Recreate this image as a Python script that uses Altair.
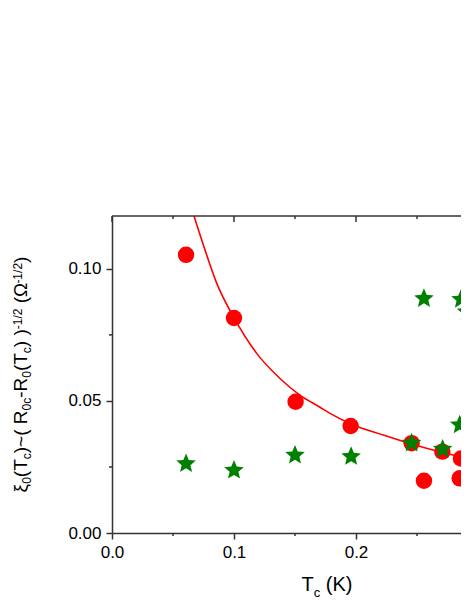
import math
import altair as alt
import pandas as pd

# ---- data ----
red_x = [0.0607, 0.1000, 0.1505, 0.1956, 0.2456, 0.2708, 0.2860, 0.2557, 0.2850, 0.2910]
red_y = [0.1053, 0.0814, 0.0497, 0.0405, 0.0340, 0.0308, 0.0282, 0.0198, 0.0207, 0.0210]

green_x = [0.0607, 0.1000, 0.1500, 0.1960, 0.2456, 0.2710, 0.2850, 0.2557, 0.2860, 0.2907]
green_y = [0.0266, 0.0241, 0.0298, 0.0293, 0.0344, 0.0321, 0.0413, 0.0891, 0.0888, 0.0841]

fit_x = [0.0672, 0.0762, 0.0858, 0.0995, 0.1186, 0.1377, 0.1540, 0.1705, 0.1787,
         0.1964, 0.2224, 0.2456, 0.2716, 0.2825, 0.2870]
fit_y = [0.1200, 0.1072, 0.0946, 0.0819, 0.0680, 0.0585, 0.0522, 0.0476, 0.0453,
         0.0412, 0.0371, 0.0337, 0.0304, 0.0292, 0.0288]

x_major = [0.0, 0.1, 0.2]
x_minor = [0.05, 0.15, 0.25]
y_major = [0.0, 0.05, 0.1]
y_minor = [0.025, 0.075]

y_title_parts = ["ξ", "0", "(T", "c", ")~( R", "0c", "-R", "0", "(T", "c", ") )", "-1/2", " (Ω", "-1/2", ")"]
y_title_kinds = ["m", "sub", "m", "sub", "m", "sub", "m", "sub", "m", "sub", "m", "sup", "m", "sup", "m"]
x_title_parts = ["T", "c", " (K)"]
x_title_kinds = ["m", "sub", "m"]

# ---- layout / style ----
FONT = "Liberation Sans, Arial, sans-serif"
PX_PER_UNIT = 1220.0
W, H = 349, 317
X_END = W / PX_PER_UNIT
AX = "#333333"
MAIN_FS, SUB_FS = 19, 12
XT_FS, XT_SUB = 20, 13

char_w = {str(d): 0.556 for d in range(10)}
char_w.update({".": 0.278, "(": 0.333, ")": 0.333, " ": 0.278, "T": 0.611, "R": 0.722,
               "c": 0.5, "-": 0.333, "~": 0.584, "/": 0.278, "K": 0.667, "Ω": 0.70, "ξ": 0.45})


def text_width(s, fs):
    return sum(char_w.get(ch, 0.55) for ch in s) * fs


def lead_space(s, fs):
    n = len(s) - len(s.lstrip(" "))
    return n * char_w[" "] * fs


# five-point star symbol path (unit box), centred vertically
pts = []
for i in range(10):
    r = 1.0 if i % 2 == 0 else 0.45
    a = math.radians(-90 + 36 * i)
    pts.append((r * math.cos(a), r * math.sin(a) + 0.095))
STAR = "M" + "L".join(f"{px:.3f},{py:.3f}" for px, py in pts) + "Z"

red_df = pd.DataFrame({"x": red_x, "y": red_y})
green_df = pd.DataFrame({"x": green_x, "y": green_y})
fit_df = pd.DataFrame({"x": fit_x, "y": fit_y})

x_axis = alt.Axis(
    values=x_major, title=None, grid=False, format=".1f",
    labelFlush=False, labelFontSize=17, labelFont=FONT, labelColor="black", labelPadding=5,
    tickSize=6, tickColor=AX, tickWidth=1.5, domainColor=AX, domainWidth=1.5,
)
y_axis = alt.Axis(
    values=y_major, title=None, grid=False, format=".2f",
    labelFlush=False, labelFontSize=17, labelFont=FONT, labelColor="black", labelPadding=5,
    tickSize=6, tickColor=AX, tickWidth=1.5, domainColor=AX, domainWidth=1.5,
)

X = alt.X("x:Q", scale=alt.Scale(domain=[0, X_END], nice=False, zero=False), axis=x_axis)
Y = alt.Y("y:Q", scale=alt.Scale(domain=[0, 0.12], nice=False, zero=False), axis=y_axis)

fit = alt.Chart(fit_df).mark_line(color="#ff0000", strokeWidth=1.6, interpolate="monotone",
                                  clip=True).encode(x=X, y=Y)
circles = alt.Chart(red_df).mark_point(shape="circle", filled=True, size=270, color="#ff0000",
                                       opacity=1, clip=True).encode(x=X, y=Y)
stars = alt.Chart(green_df).mark_point(shape=STAR, filled=True, size=420, color="#008000",
                                       opacity=1, strokeWidth=0, clip=True).encode(x=X, y=Y)

rule = dict(color=AX, strokeWidth=1.5)
top_frame = alt.Chart(pd.DataFrame({"a": [0]})).mark_rule(**rule).encode(
    x=alt.value(0), x2=alt.value(W + 2), y=alt.value(0))
top_maj = alt.Chart(pd.DataFrame({"x": x_major})).mark_rule(**rule).encode(
    x=X, y=alt.value(0), y2=alt.value(6))
top_min = alt.Chart(pd.DataFrame({"x": x_minor})).mark_rule(**rule).encode(
    x=X, y=alt.value(0), y2=alt.value(3))
bot_min = alt.Chart(pd.DataFrame({"x": x_minor})).mark_rule(**rule).encode(
    x=X, y=alt.value(H), y2=alt.value(H + 3))
left_min = alt.Chart(pd.DataFrame({"y": y_minor})).mark_rule(**rule).encode(
    y=Y, x=alt.value(-3), x2=alt.value(0))

layers = [fit, circles, stars, top_frame, top_maj, top_min, bot_min, left_min]

dummy = pd.DataFrame({"a": [0]})

# x title: T_c (K)
sizes = [XT_FS if k == "m" else XT_SUB for k in x_title_kinds]
total = sum(text_width(p, s) for p, s in zip(x_title_parts, sizes))
cx = 215 - total / 2
for p, k, s in zip(x_title_parts, x_title_kinds, sizes):
    base = 375 if k == "m" else 381
    layers.append(alt.Chart(dummy).mark_text(text=p.strip(), fontSize=s, font=FONT, color="black",
                                             align="left", baseline="alphabetic")
                  .encode(x=alt.value(cx + lead_space(p, s)), y=alt.value(base)))
    cx += text_width(p, s)

# y title (rotated), centred on plot
sizes = [MAIN_FS if k == "m" else SUB_FS for k in y_title_kinds]
total = sum(text_width(p, s) for p, s in zip(y_title_parts, sizes))
cy = H / 2 + total / 2
for p, k, s in zip(y_title_parts, y_title_kinds, sizes):
    bx = {"m": -85, "sub": -81, "sup": -90}[k]
    layers.append(alt.Chart(dummy).mark_text(text=p.strip(), fontSize=s, font=FONT, color="black",
                                             align="left", baseline="alphabetic", angle=270)
                  .encode(x=alt.value(bx), y=alt.value(cy - lead_space(p, s))))
    cy -= text_width(p, s)

chart = alt.layer(*layers).properties(
    width=W, height=H,
    autosize=alt.AutoSizeParams(type="none"),
    padding={"left": 104, "top": 208, "right": 0, "bottom": 72},
    background="white",
).configure_view(strokeWidth=0)

chart.save("out.html", embed_options={"renderer": "svg", "actions": False})
